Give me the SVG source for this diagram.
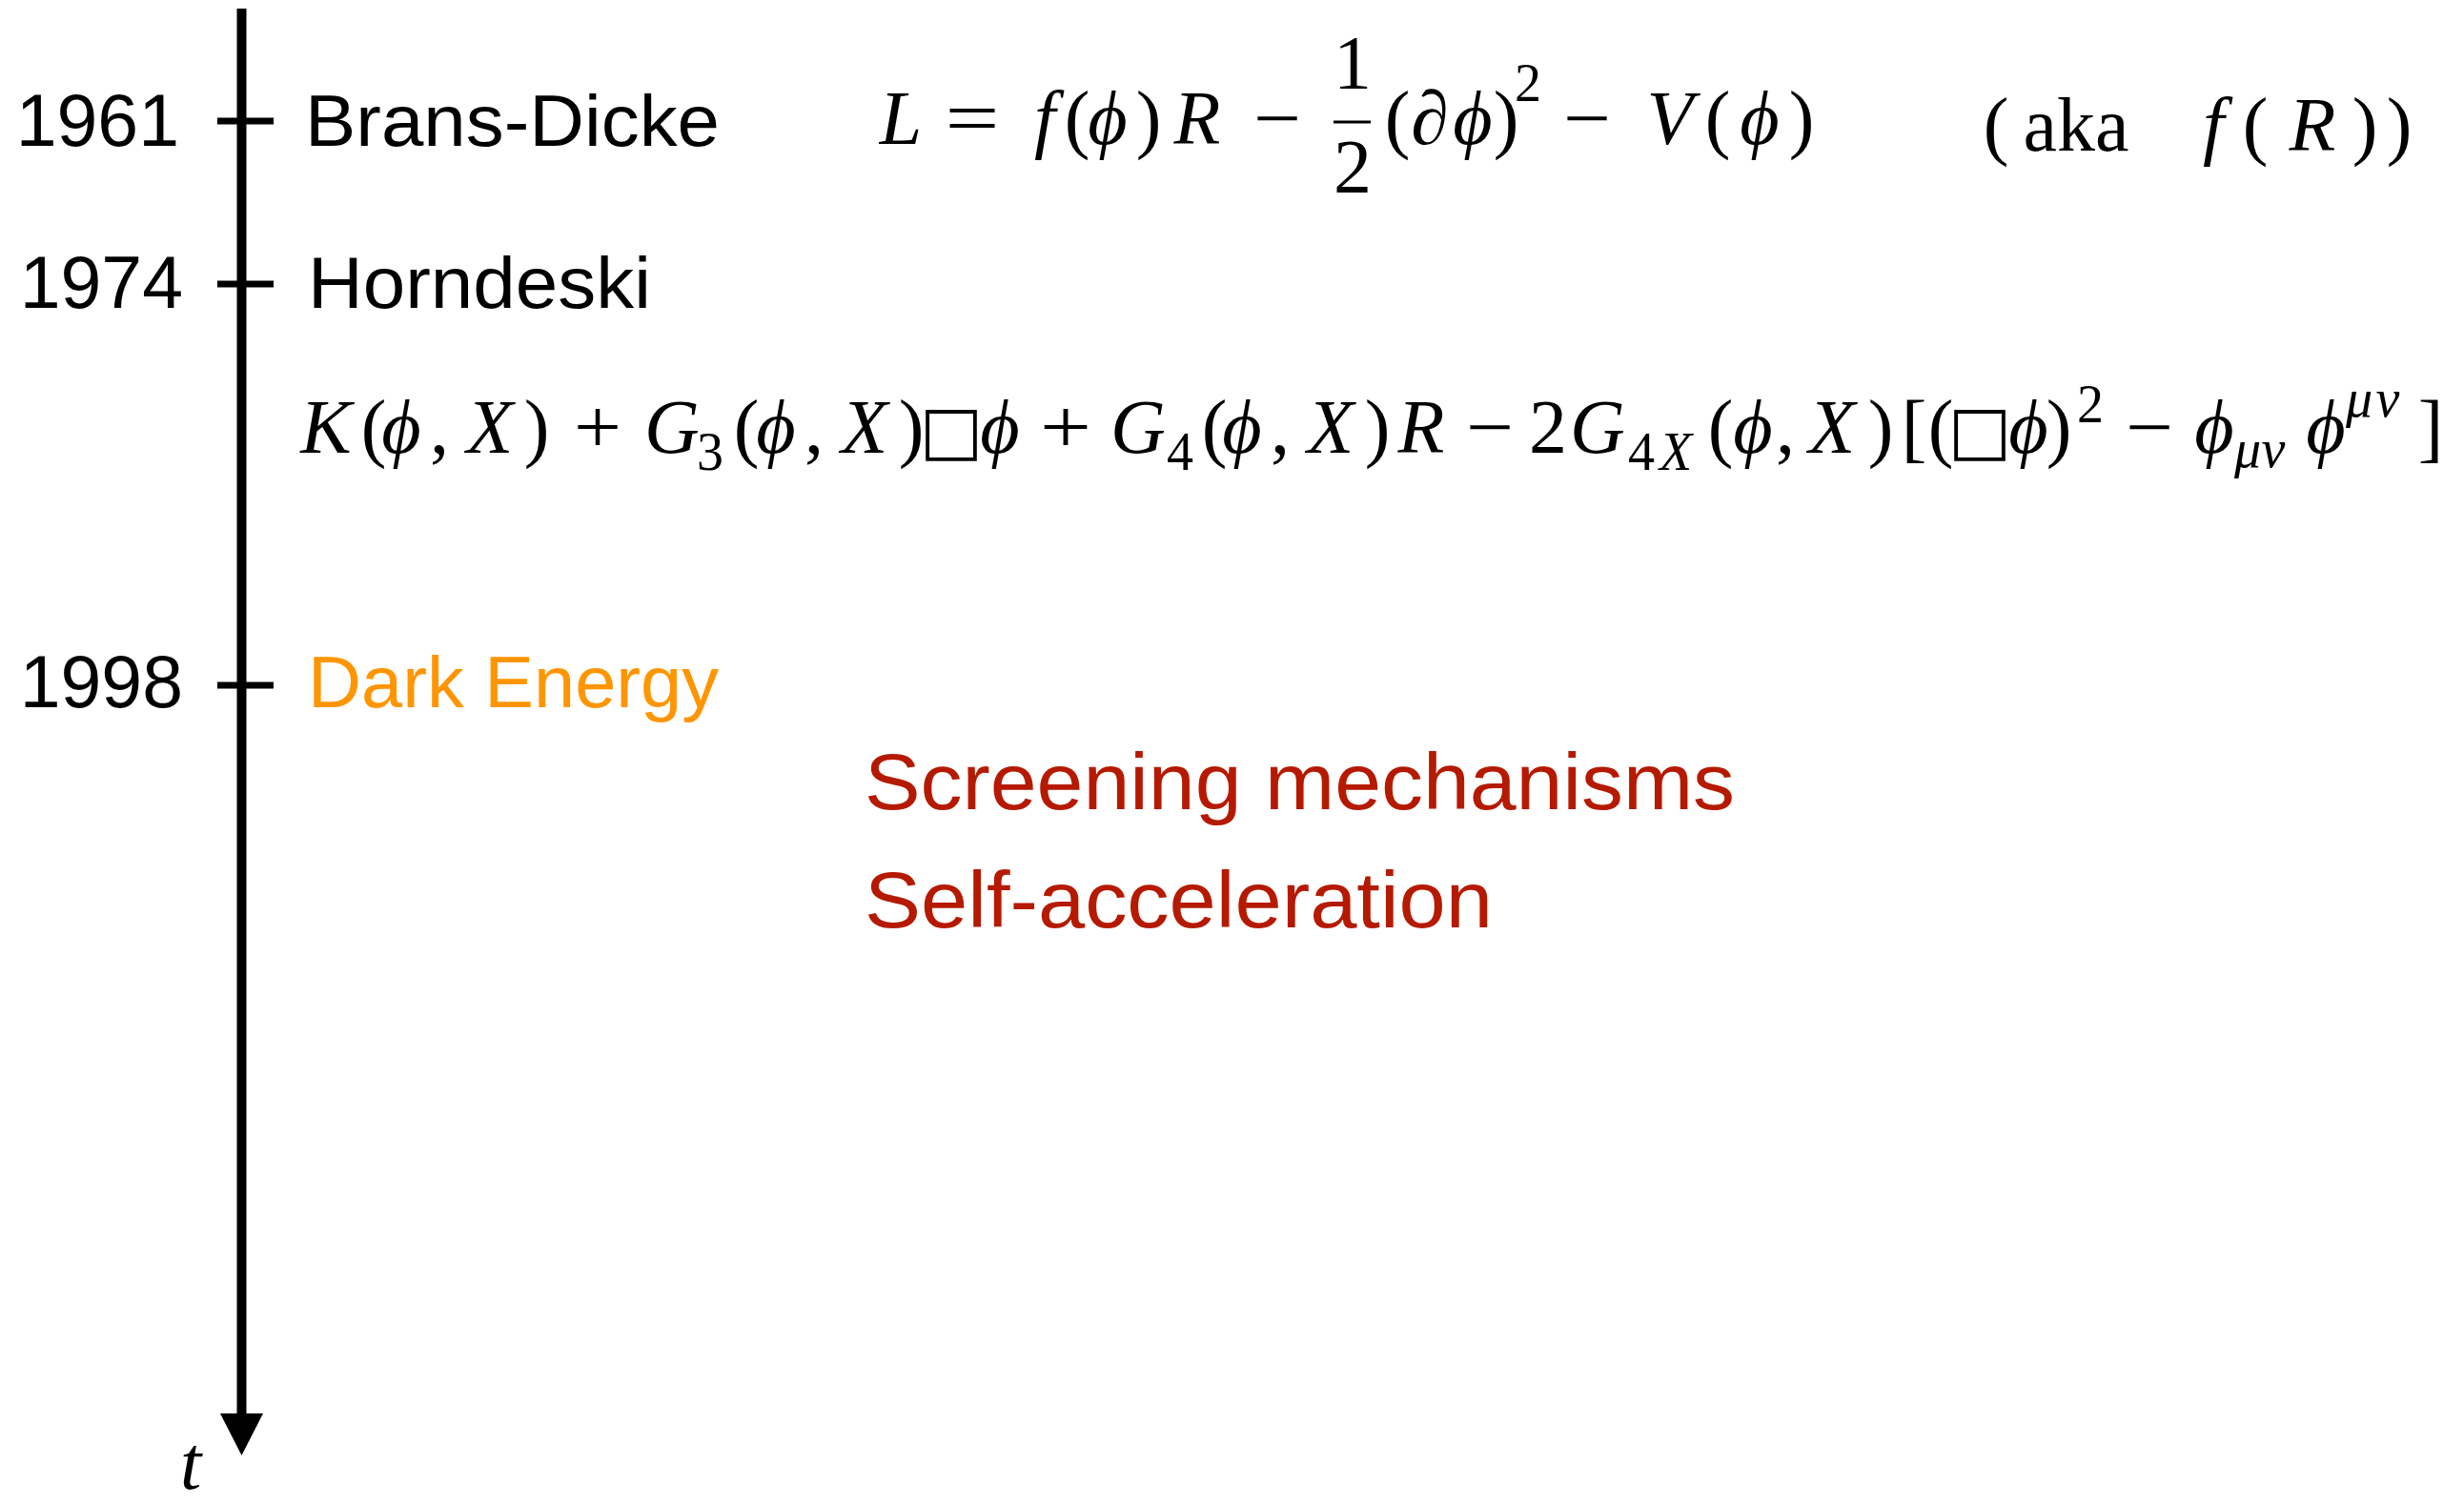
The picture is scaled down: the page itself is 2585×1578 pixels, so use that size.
<svg xmlns="http://www.w3.org/2000/svg" width="2585" height="1578" viewBox="0 0 2585 1578">
<style>
.sans{font-family:"Liberation Sans",Arial,sans-serif;}
.yr{font-size:77px;fill:#000;text-anchor:end;}
.lbl{font-size:76px;fill:#000;}
.red{font-size:84px;fill:#B51A00;}
.math{font-family:"Liberation Serif","DejaVu Serif",serif;font-size:80px;fill:#000;text-anchor:middle;}
.it{font-style:italic;}
.sub{font-size:56px;}
.box{font-family:"DejaVu Sans",sans-serif;font-style:normal;font-size:70px;}
.tick{stroke:#000;stroke-width:7;}
</style>
<rect width="2585" height="1578" fill="#fff"/>
<g id="axis">
<line x1="253.5" y1="9" x2="253.5" y2="1486" stroke="#000" stroke-width="10"/>
<polygon points="231,1483 276,1483 253.5,1527" fill="#000"/>
<text class="math it" x="200" y="1562" font-size="88">t</text>
</g>
<g id="connectors">
<line class="tick" x1="228" y1="127" x2="287" y2="127"/>
<line class="tick" x1="228" y1="298" x2="287" y2="298"/>
<line class="tick" x1="228" y1="719" x2="287" y2="719"/>
</g>
<g id="node-1961">
<text class="sans yr" x="188" y="153">1961</text>
<text class="sans lbl" x="320" y="153" textLength="435" lengthAdjust="spacingAndGlyphs">Brans-Dicke</text>
</g>
<g id="node-1974">
<text class="sans yr" x="192" y="323">1974</text>
<text class="sans lbl" x="323" y="323" textLength="360" lengthAdjust="spacingAndGlyphs">Horndeski</text>
</g>
<g id="node-1998">
<text class="sans yr" x="192" y="742">1998</text>
<text class="sans lbl" x="323" y="742" style="fill:#FF9500" textLength="431" lengthAdjust="spacingAndGlyphs">Dark Energy</text>
</g>
<g id="node-screening">
<text class="sans red" x="907" y="849" textLength="913" lengthAdjust="spacingAndGlyphs">Screening mechanisms</text>
<text class="sans red" x="907" y="973" textLength="659" lengthAdjust="spacingAndGlyphs">Self-acceleration</text>
</g>
<g id="eq-brans-dicke">
<text class="math" y="151"><tspan class="it" x="945">L</tspan><tspan class="it" x="1096">f</tspan><tspan x="1130">(</tspan><tspan class="it" x="1162">ϕ</tspan><tspan x="1205">)</tspan><tspan class="it" x="1256">R</tspan><tspan x="1466">(</tspan><tspan class="it" x="1500 1545">∂ϕ</tspan><tspan x="1580">)</tspan><tspan class="it" x="1752">V</tspan><tspan x="1802">(</tspan><tspan class="it" x="1846">ϕ</tspan><tspan x="1890">)</tspan></text>
<text class="math" x="1020" y="151" textLength="57" lengthAdjust="spacingAndGlyphs">=</text>
<text class="math" x="1340" y="151" textLength="50" lengthAdjust="spacingAndGlyphs">−</text>
<text class="math" x="1665" y="151" textLength="50" lengthAdjust="spacingAndGlyphs">−</text>
<text class="math" x="1419" y="93">1</text>
<line x1="1399" y1="128" x2="1438" y2="128" stroke="#000" stroke-width="3"/>
<text class="math" x="1419" y="202">2</text>
<text class="math sub" x="1603" y="106">2</text>
</g>
<g id="eq-aka">
<text class="math" y="158" font-size="100"><tspan x="2094">(</tspan><tspan x="2178">aka</tspan><tspan class="it" x="2322">f</tspan><tspan x="2366">(</tspan><tspan class="it" x="2426">R</tspan><tspan x="2481 2517">))</tspan></text>
</g>
<g id="eq-horndeski">
<text class="math" y="475"><tspan class="it" x="342">K</tspan><tspan x="392">(</tspan><tspan class="it" x="421">ϕ</tspan><tspan x="461">,</tspan><tspan class="it" x="514">X</tspan><tspan x="563">)</tspan><tspan class="it" x="705">G</tspan><tspan class="sub" x="745" y="493">3</tspan><tspan x="783" y="475">(</tspan><tspan class="it" x="814">ϕ</tspan><tspan x="854">,</tspan><tspan class="it" x="907">X</tspan><tspan x="956">)</tspan><tspan class="box" x="998">□</tspan><tspan class="it" x="1049">ϕ</tspan><tspan class="it" x="1194">G</tspan><tspan class="sub" x="1238" y="493">4</tspan><tspan x="1274" y="475">(</tspan><tspan class="it" x="1303">ϕ</tspan><tspan x="1343">,</tspan><tspan class="it" x="1396">X</tspan><tspan x="1445">)</tspan><tspan class="it" x="1491">R</tspan><tspan x="1624">2</tspan><tspan class="it" x="1676">G</tspan><tspan class="sub" x="1722" y="493">4</tspan><tspan class="sub it" x="1758" y="493">X</tspan><tspan x="1805" y="475">(</tspan><tspan class="it" x="1839">ϕ</tspan><tspan x="1873">,</tspan><tspan class="it" x="1922">X</tspan><tspan x="1973">)</tspan><tspan x="2008 2036">[(</tspan><tspan class="box" x="2077">□</tspan><tspan class="it" x="2128">ϕ</tspan><tspan x="2160">)</tspan><tspan class="sub" x="2193" y="443">2</tspan><tspan class="it" x="2323" y="475">ϕ</tspan><tspan class="sub it" x="2358 2385" y="490">μν</tspan><tspan class="it" x="2440" y="475">ϕ</tspan><tspan class="sub it" x="2475 2505" y="437">μν</tspan><tspan x="2550" y="475">]</tspan></text>
<text class="math" x="627" y="475" textLength="50" lengthAdjust="spacingAndGlyphs">+</text>
<text class="math" x="1118" y="475" textLength="54" lengthAdjust="spacingAndGlyphs">+</text>
<text class="math" x="1563" y="475" textLength="50" lengthAdjust="spacingAndGlyphs">−</text>
<text class="math" x="2255" y="475" textLength="50" lengthAdjust="spacingAndGlyphs">−</text>
</g>
</svg>
